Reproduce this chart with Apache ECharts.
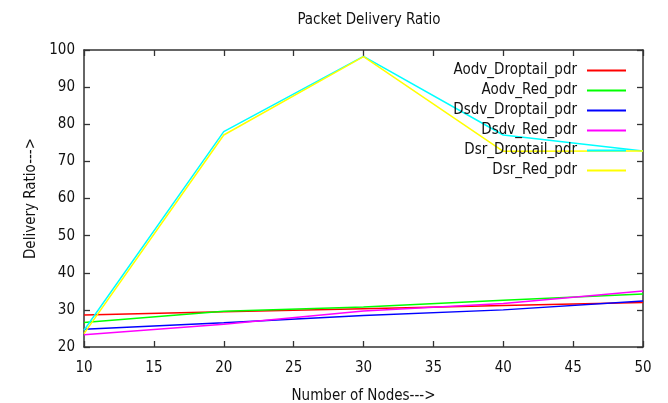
<!DOCTYPE html>
<html><head><meta charset="utf-8">
<script src="https://cdn.jsdelivr.net/npm/echarts@6/dist/echarts.min.js"></script>
<style>html,body{margin:0;padding:0;background:#fff}#c{width:668px;height:403px}</style>
</head><body><div id="c"></div>
<script>
const nodes = [10, 20, 30, 40, 50];
const aodvDroptail = [28.6, 29.5, 30.3, 31.2, 32.0];
const aodvRed = [26.6, 29.6, 30.8, 32.6, 34.3];
const dsdvDroptail = [24.8, 26.5, 28.5, 30.0, 32.4];
const dsdvRed = [23.3, 26.1, 29.7, 31.7, 35.1];
const dsrDroptail = [24.5, 78.0, 98.3, 77.1, 72.8];
const dsrRed = [23.6, 77.1, 98.2, 72.7, 72.8];
const seriesNames = ['Aodv_Droptail_pdr','Aodv_Red_pdr','Dsdv_Droptail_pdr','Dsdv_Red_pdr','Dsr_Droptail_pdr','Dsr_Red_pdr'];
const seriesValues = [aodvDroptail, aodvRed, dsdvDroptail, dsdvRed, dsrDroptail, dsrRed];
const colors = ['#ff0000','#00ff00','#0000ff','#ff00ff','#00ffff','#ffff00'];
const font = '"DejaVu Sans Condensed", "DejaVu Sans", sans-serif';
const axisCol = '#333';

const chart = echarts.init(document.getElementById('c'), null, {renderer:'canvas'});
const series = seriesNames.map((n,i)=>({
  name:n, type:'line', symbol:'none', showSymbol:false, animation:false,
  data: nodes.map((x,j)=>[x, seriesValues[i][j]]),
  lineStyle:{color:colors[i], width:1.5},
  itemStyle:{color:colors[i]}
}));
const baseAxisLine = {show:true, lineStyle:{color:axisCol, width:1.5}};
const tick = {show:true, inside:true, length:6, lineStyle:{color:axisCol, width:1.3}};
chart.setOption({
  backgroundColor:'#fff',
  animation:false,
  title:{text:'Packet Delivery Ratio', left:364, top:8, textAlign:'center',
    textStyle:{fontFamily:font, fontSize:15, fontWeight:'normal', color:'#111'}},
  legend:{orient:'vertical', right:41, top:63, align:'right', itemWidth:39, itemHeight:16, itemGap:5, padding:0,
    data:seriesNames,
    itemStyle:{opacity:0},
    textStyle:{fontFamily:font, fontSize:15, color:'#111', padding:[0,5,0,0]}},
  grid:{left:84, right:25, top:50, bottom:56, containLabel:false, outerBoundsMode:'none'},
  xAxis:[{type:'value', min:10, max:50, interval:5, position:'bottom',
      name:'Number of Nodes--->', nameLocation:'middle', nameGap:42,
      nameTextStyle:{fontFamily:font, fontSize:15, color:'#111'},
      axisLine:baseAxisLine, axisTick:tick,
      axisLabel:{fontFamily:font, fontSize:15, color:'#111', margin:14},
      splitLine:{show:false}},
    {type:'value', min:10, max:50, interval:5, position:'top',
      axisLine:baseAxisLine, axisTick:tick,
      axisLabel:{show:false}, splitLine:{show:false}}],
  yAxis:[{type:'value', min:20, max:100, interval:10, position:'left',
      name:'Delivery Ratio--->', nameLocation:'middle', nameGap:45, nameRotate:90,
      nameTextStyle:{fontFamily:font, fontSize:15, color:'#111'},
      axisLine:baseAxisLine, axisTick:tick,
      axisLabel:{fontFamily:font, fontSize:15, color:'#111', margin:9},
      splitLine:{show:false}},
    {type:'value', min:20, max:100, interval:10, position:'right',
      axisLine:baseAxisLine, axisTick:tick,
      axisLabel:{show:false}, splitLine:{show:false}}],
  series: series
});
</script></body></html>
